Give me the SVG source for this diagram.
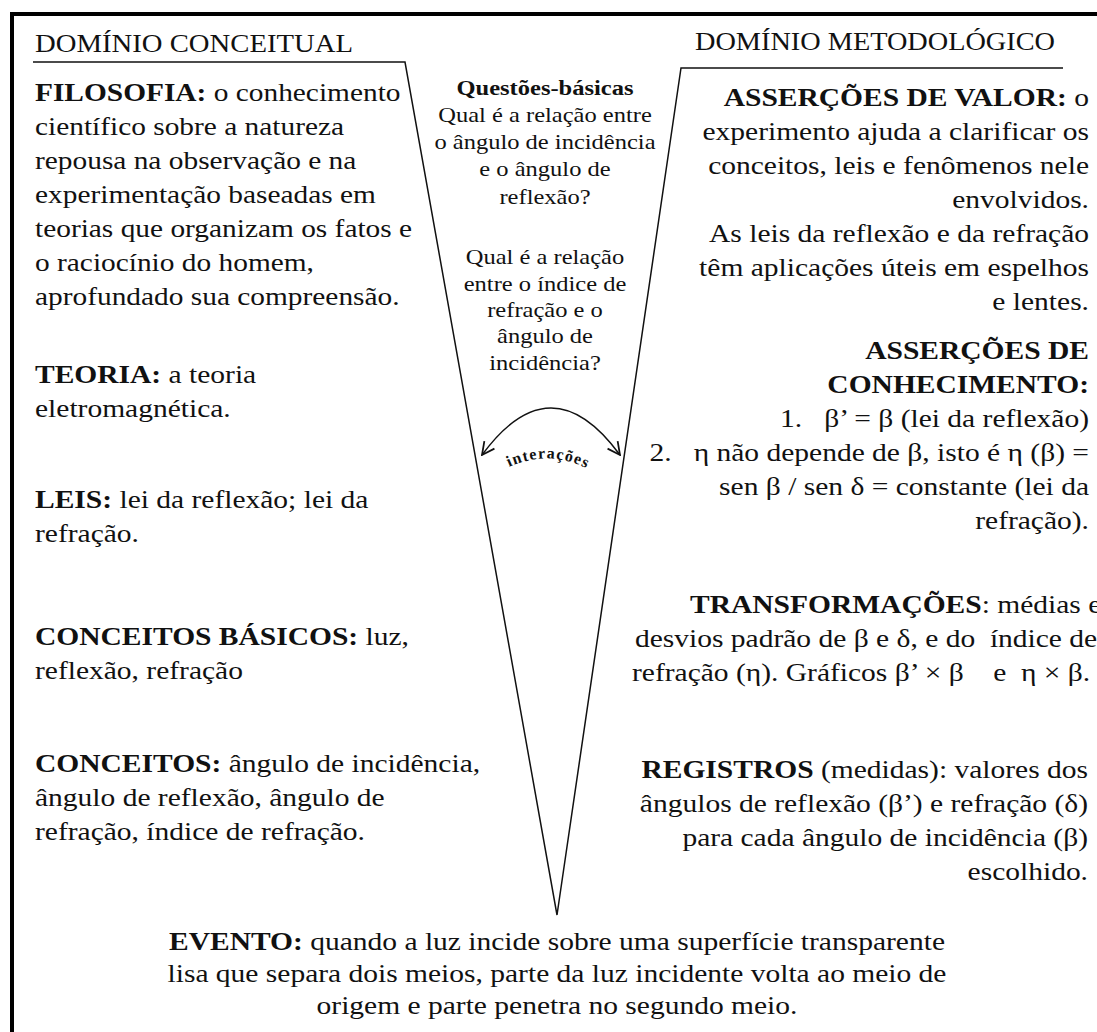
<svg xmlns="http://www.w3.org/2000/svg" width="1097" height="1032" viewBox="0 0 1097 1032">
<style>
text{font-family:"Liberation Serif","Times New Roman",serif;font-size:26px;fill:#111}
.b{font-weight:bold}
.c{font-size:21.5px;text-anchor:middle}
.m{text-anchor:middle}
.r{text-anchor:end}
.i{font-size:16px;font-weight:bold;letter-spacing:1.2px}
.ln{fill:none;stroke:#111;stroke-width:1.5}
.fr{stroke:#000;stroke-width:4}
</style>
<defs>
<marker id="ah" viewBox="0 0 12 12" refX="11" refY="6" markerWidth="15" markerHeight="15" markerUnits="userSpaceOnUse" orient="auto-start-reverse">
<path d="M1,1 L11,6 L1,11" fill="none" stroke="#111" stroke-width="1.4"/>
</marker>
<path id="ipath" d="M486,481 Q548,435 610,483"/>
</defs>
<rect width="1097" height="1032" fill="#fff"/>
<g id="frame"><line class="fr" x1="10" y1="14" x2="1097" y2="14"/><line class="fr" x1="12" y1="12" x2="12" y2="1032"/></g>

<g id="connectors">
<polyline class="ln" points="33,62 405,62 557,915 681,68 1063,68"/>
<path class="ln" d="M482,455 Q551,361 620,455" marker-start="url(#ah)" marker-end="url(#ah)"/>
</g>
<g id="interacoes"><text class="i"><textPath href="#ipath" startOffset="50%" text-anchor="middle">interações</textPath></text></g>

<g id="dominio-conceitual"><text x="35" y="52" textLength="318" lengthAdjust="spacingAndGlyphs">DOMÍNIO CONCEITUAL</text></g>
<g id="dominio-metodologico"><text x="695" y="50" textLength="360" lengthAdjust="spacingAndGlyphs">DOMÍNIO METODOLÓGICO</text></g>

<g id="filosofia" transform="translate(35 0) scale(1.13 1)">
<text y="101"><tspan class="b">FILOSOFIA:</tspan> o conhecimento</text>
<text y="135">científico sobre a natureza</text>
<text y="169">repousa na observação e na</text>
<text y="203">experimentação baseadas em</text>
<text y="237">teorias que organizam os fatos e</text>
<text y="271">o raciocínio do homem,</text>
<text y="305">aprofundado sua compreensão.</text>
</g>
<g id="teoria" transform="translate(35 0) scale(1.135 1)">
<text y="383"><tspan class="b">TEORIA:</tspan> a teoria</text>
<text y="417">eletromagnética.</text>
</g>
<g id="leis" transform="translate(35 0) scale(1.135 1)">
<text y="508"><tspan class="b">LEIS:</tspan> lei da reflexão; lei da</text>
<text y="542">refração.</text>
</g>
<g id="conceitos-basicos" transform="translate(35 0) scale(1.135 1)">
<text y="645"><tspan class="b">CONCEITOS BÁSICOS:</tspan> luz,</text>
<text y="679">reflexão, refração</text>
</g>
<g id="conceitos" transform="translate(35 0) scale(1.135 1)">
<text y="772"><tspan class="b">CONCEITOS:</tspan> ângulo de incidência,</text>
<text y="806">ângulo de reflexão, ângulo de</text>
<text y="840">refração, índice de refração.</text>
</g>

<g id="questoes" transform="translate(545 0) scale(1.14 1)">
<text class="c b" y="95">Questões-básicas</text>
<text class="c" y="122">Qual é a relação entre</text>
<text class="c" y="149">o ângulo de incidência</text>
<text class="c" y="176">e o ângulo de</text>
<text class="c" y="204">reflexão?</text>
<text class="c" y="264">Qual é a relação</text>
<text class="c" y="291">entre o índice de</text>
<text class="c" y="317">refração e o</text>
<text class="c" y="343">ângulo de</text>
<text class="c" y="370">incidência?</text>
</g>

<g id="assercoes-valor" transform="translate(1089 0) scale(1.135 1)">
<text class="r" y="106"><tspan class="b">ASSERÇÕES DE VALOR:</tspan> o</text>
<text class="r" y="140">experimento ajuda a clarificar os</text>
<text class="r" y="174">conceitos, leis e fenômenos nele</text>
<text class="r" y="208">envolvidos.</text>
<text class="r" y="242">As leis da reflexão e da refração</text>
<text class="r" y="276">têm aplicações úteis em espelhos</text>
<text class="r" y="310">e lentes.</text>
</g>

<g id="assercoes-conhecimento" transform="translate(1089 0) scale(1.135 1)">
<text class="r b" y="359">ASSERÇÕES DE</text>
<text class="r b" y="393">CONHECIMENTO:</text>
<text class="r" y="427">1.&#160;&#160;&#160;β’ = β (lei da reflexão)</text>
<text class="r" y="461">2.&#160;&#160;&#160;η não depende de β, isto é η (β) =</text>
<text class="r" y="495">sen β / sen δ = constante (lei da</text>
<text class="r" y="529">refração).</text>
</g>

<g id="transformacoes">
<text transform="translate(690 613) scale(1.135 1)"><tspan class="b">TRANSFORMAÇÕES</tspan>: médias e</text>
<text transform="translate(635 647) scale(1.135 1)">desvios padrão de β e δ, e do&#160; índice de</text>
<text transform="translate(632 681) scale(1.135 1)">refração (η). Gráficos β’ × β&#160;&#160;&#160; e&#160; η × β.</text>
</g>

<g id="registros" transform="translate(1088 0) scale(1.135 1)">
<text class="r" y="778"><tspan class="b">REGISTROS</tspan> (medidas): valores dos</text>
<text class="r" y="812">ângulos de reflexão (β’) e refração (δ)</text>
<text class="r" y="846">para cada ângulo de incidência (β)</text>
<text class="r" y="880">escolhido.</text>
</g>

<g id="evento" transform="translate(557 0) scale(1.135 1)">
<text class="m" y="950"><tspan class="b">EVENTO:</tspan> quando a luz incide sobre uma superfície transparente</text>
<text class="m" y="982">lisa que separa dois meios, parte da luz incidente volta ao meio de</text>
<text class="m" y="1014">origem e parte penetra no segundo meio.</text>
</g>
</svg>
